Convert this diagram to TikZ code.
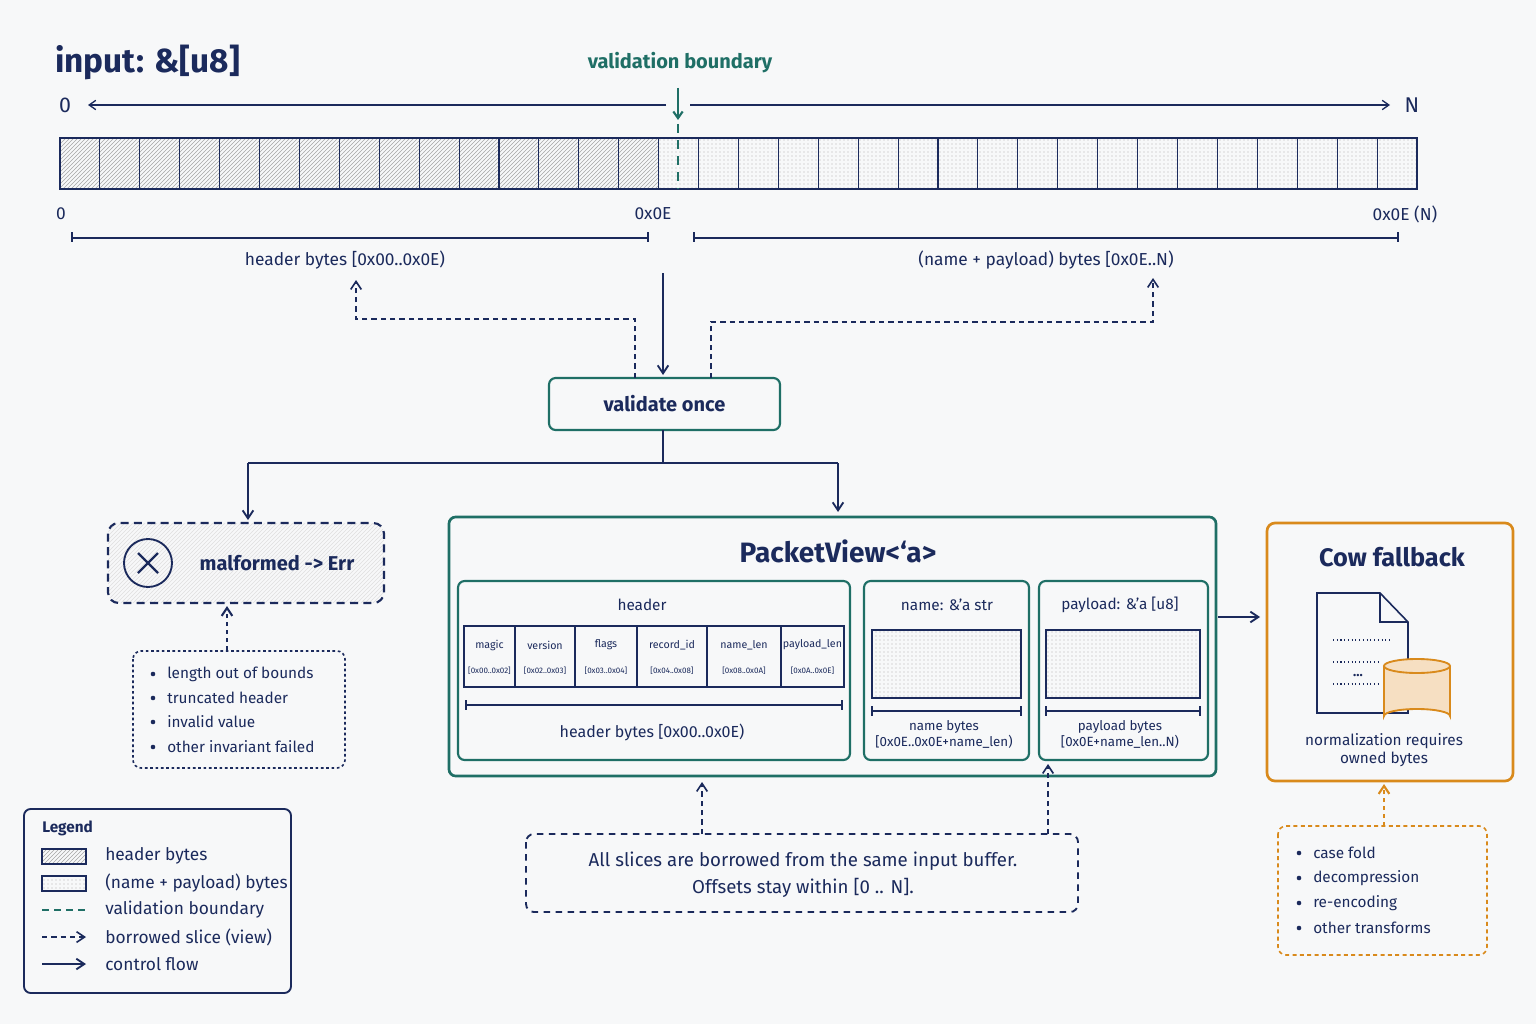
\documentclass[tikz,border=0pt]{standalone}
\usepackage{fontspec}
\setmainfont{Fira Sans}
\usetikzlibrary{arrows.meta,patterns,shapes.geometric}
\definecolor{navy}{HTML}{1B2A5C}
\definecolor{grn}{HTML}{1F6F66}
\definecolor{org}{HTML}{D98A1C}
\definecolor{bg}{HTML}{F7F8F9}
\definecolor{lorg}{HTML}{F6DFC2}
\tikzset{
 ar/.style={-{Straight Barb[length=6pt,width=8pt]},line width=1.4pt,navy},
 dar/.style={-{Straight Barb[length=6pt,width=8pt]},line width=1.2pt,navy,dash pattern=on 4pt off 3pt},
 t/.style={text=navy,font=\fontsize{13}{15}\selectfont,inner sep=0pt},
 st/.style={text=navy,font=\fontsize{10}{12}\selectfont,inner sep=0pt,align=center},
 tiny/.style={text=navy,font=\fontsize{6}{7}\selectfont,inner sep=0pt},
 hcol/.style={text=navy,font=\fontsize{8}{9}\selectfont,inner sep=0pt},
 gbox/.style={draw=grn,line width=1.6pt,rounded corners=5pt},
 hat/.style={pattern={north east lines},pattern color=gray!70},
 dot/.style={pattern=dots,pattern color=gray!60},
}
\begin{document}
\begin{tikzpicture}[x=0.75pt,y=-0.75pt]
\fill[bg] (0,0) rectangle (1536,1024);
\useasboundingbox (0,0) rectangle (1536,1024);
% title
\node[anchor=west,text=navy,font=\fontsize{25}{28}\selectfont\bfseries,inner sep=0pt] (title) at (55,62) {input: \&[u8]};
\node[text=grn,font=\fontsize{15}{18}\selectfont\bfseries,inner sep=0pt] (vb) at (680,63) {validation boundary};
\node[t,font=\fontsize{16}{18}\selectfont] (z0) at (65,105) {0};
\node[t,font=\fontsize{16}{18}\selectfont] (zN) at (1412,105) {N};
\draw[-{Straight Barb[length=5pt,width=7pt]},line width=1pt,navy] (666,105) -- (88,105);
\draw[-{Straight Barb[length=5pt,width=7pt]},line width=1pt,navy] (690,105) -- (1390,105);
\draw[-{Straight Barb[length=5pt,width=7pt]},line width=1.6pt,grn] (678,88) -- (678,120);
% strip
\foreach \i in {0,...,33}{
 \pgfmathsetmacro{\xa}{60+\i*39.91}
 \pgfmathsetmacro{\xb}{60+(\i+1)*39.91}
 \ifnum\i<15
  \draw[navy,line width=0.8pt,hat] (\xa,138) rectangle (\xb,189);
 \else
  \draw[navy,line width=0.8pt,dot] (\xa,138) rectangle (\xb,189);
 \fi
}
\draw[navy,line width=1.2pt] (60,138) rectangle (1417,189);
\draw[grn,line width=2pt,dash pattern=on 7pt off 5pt] (678,124) -- (678,189);
\node[t] (l0) at (61,214) {0};
\node[t] (l1) at (653,214) {0x0E};
\node[t] (l2) at (1405,214) {0x0E (N)};
\draw[navy,line width=1.6pt] (72,232) -- (72,242) (72,238) -- (648,238) (648,232) -- (648,242);
\draw[navy,line width=1.6pt] (694,232) -- (694,242) (694,238) -- (1398,238) (1398,232) -- (1398,242);
\node[t] (hb) at (345,260) {header bytes [0x00..0x0E)};
\node[t] (pb) at (1046,260) {(name + payload) bytes [0x0E..N)};
% validate
\node[gbox,minimum width=231pt*0.75,minimum height=52pt*0.75,text=navy,font=\fontsize{15}{18}\selectfont\bfseries] (val) at (664.5,404) {validate once};
\draw[ar] (663,273) -- (663,375);
\draw[dar] (635,378) -- (635,319) -- (356,319) -- (356,280);
\draw[dar] (711,378) -- (711,322) -- (1153,322) -- (1153,278);
\draw[ar,-] (663,430) -- (663,463);
\draw[ar] (248,463) -- (838,463) (248,463) -- (248,520);
\draw[ar] (838,463) -- (838,512);
% malformed
\draw[navy,line width=1.6pt,dash pattern=on 6pt off 4pt,rounded corners=8pt,pattern={north east lines},pattern color=gray!25] (108,523) rectangle (384,603);
\node[draw=navy,circle,line width=1.4pt,minimum size=48pt*0.75] (xc) at (148,563) {};
\draw[navy,line width=1.6pt] (xc.center)++(-10,-10) -- ++(20,20) (xc.center)++(10,-10) -- ++(-20,20);
\node[t,font=\fontsize{15}{18}\selectfont\bfseries] (mal) at (277,563) {malformed -> Err};
\draw[navy,line width=1.2pt,dash pattern=on 2pt off 2pt,rounded corners=6pt] (133,651) rectangle (345,768);
\draw[navy,line width=1.6pt,dash pattern=on 3pt off 3pt,-{Straight Barb[length=6pt,width=8pt]}] (227,650) -- (227,606);
\foreach \y/\s in {674/length out of bounds,698/truncated header,722/invalid value,747/other invariant failed}{
 \fill[navy] (153,\y) circle (2.3);
 \node[t,anchor=west,font=\fontsize{11.5}{14}\selectfont] at (167,\y) {\s};
}
% PacketView
\draw[gbox,line width=2pt] (449,517) rectangle (1216,776);
\node[t,font=\fontsize{21}{24}\selectfont\bfseries] (pv) at (838,551) {PacketView<‘a>};
\draw[gbox,line width=1.6pt] (458,581) rectangle (850,760);
\node[t,font=\fontsize{11.5}{14}\selectfont] at (642,605) {header};
\draw[navy,line width=1pt] (464,626) rectangle (844,687);
\foreach \xa/\xb/\n/\r in {464/515/magic/{[0x00..0x02]},515/575/version/{[0x02..0x03]},575/637/flags/{[0x03..0x04]},637/707/record\_id/{[0x04..0x08]},707/781/name\_len/{[0x08..0x0A]},781/844/payload\_len/{[0x0A..0x0E]}}{
 \draw[navy,line width=1pt] (\xb,626) -- (\xb,687);
 \node[hcol] at ({(\xa+\xb)/2},645) {\n};
 \node[tiny] at ({(\xa+\xb)/2},671) {\r};
}
\draw[navy,line width=1.6pt] (466,700) -- (466,710) (466,705) -- (842,705) (842,700) -- (842,710);
\node[t,font=\fontsize{12}{14}\selectfont] at (652,732) {header bytes [0x00..0x0E)};
\draw[gbox,line width=1.6pt] (864,581) rectangle (1029,760);
\node[t,font=\fontsize{11.5}{14}\selectfont] at (947,605) {name: \&’a str};
\draw[navy,line width=1pt,dot] (872,630) rectangle (1021,698);
\draw[navy,line width=1.6pt] (872,706) -- (872,716) (872,711) -- (1021,711) (1021,706) -- (1021,716);
\node[st] at (944,734) {name bytes\\{}[0x0E..0x0E+name\_len)};
\draw[gbox,line width=1.6pt] (1039,581) rectangle (1208,760);
\node[t,font=\fontsize{11.5}{14}\selectfont] at (1120,605) {payload: \&’a [u8]};
\draw[navy,line width=1pt,dot] (1046,630) rectangle (1200,698);
\draw[navy,line width=1.6pt] (1046,706) -- (1046,716) (1046,711) -- (1200,711) (1200,706) -- (1200,716);
\node[st] at (1120,734) {payload bytes\\{}[0x0E+name\_len..N)};
\draw[ar] (1218,617) -- (1260,617);
% Cow
\draw[draw=org,line width=2pt,rounded corners=6pt] (1267,523) rectangle (1513,781);
\node[t,font=\fontsize{19}{22}\selectfont\bfseries] (cow) at (1392,557) {Cow fallback};
\draw[navy,line width=1.2pt,fill=bg] (1317,593) -- (1380,593) -- (1408,622) -- (1408,713) -- (1317,713) -- cycle;
\draw[navy,line width=1.2pt] (1380,593) -- (1380,622) -- (1408,622);
\draw[navy,dotted,line width=0.8pt] (1333,640) -- (1392,640) (1333,662) -- (1380,662) (1333,684) -- (1380,684);
\node[t,font=\fontsize{10}{10}\selectfont\bfseries] at (1358,676) {...};
\draw[org,line width=1.4pt,fill=lorg] (1384,666) -- (1384,716) arc[start angle=180,end angle=360,x radius=33,y radius=7] -- (1450,666);
\draw[org,line width=1.4pt,fill=lorg] (1417,666) ellipse[x radius=33,y radius=7];
\node[st,font=\fontsize{11.5}{13}\selectfont] at (1384,750) {normalization requires\\owned bytes};
\draw[org,line width=1.6pt,dash pattern=on 3pt off 3pt,-{Straight Barb[length=6pt,width=8pt]}] (1384,826) -- (1384,784);
\draw[org,line width=1.2pt,dash pattern=on 3pt off 2.5pt,rounded corners=6pt] (1278,826) rectangle (1487,955);
\foreach \y/\s in {853/case fold,878/decompression,903/re-encoding,928/other transforms}{
 \fill[navy] (1299,\y) circle (2.3);
 \node[t,anchor=west,font=\fontsize{11.5}{14}\selectfont] at (1313,\y) {\s};
}
% note
\draw[navy,line width=1.4pt,dash pattern=on 5pt off 4pt,rounded corners=6pt] (526,834) rectangle (1078,912);
\node[t,align=center,font=\fontsize{14}{20}\selectfont] at (803,875) {All slices are borrowed from the same input buffer.\\Offsets stay within [0 .. N].};
\draw[dar] (702,834) -- (702,782);
\draw[dar] (1048,834) -- (1048,764);
% legend
\draw[navy,line width=1.4pt,rounded corners=5pt,fill=bg] (24,809) rectangle (291,993);
\node[t,anchor=west,font=\fontsize{11.5}{14}\selectfont\bfseries] at (42,828) {Legend};
\draw[navy,line width=0.8pt,hat] (42,849) rectangle (86,864);
\draw[navy,line width=0.8pt,dot] (42,876) rectangle (86,891);
\draw[grn,line width=1.4pt,dash pattern=on 5pt off 4pt] (42,910) -- (86,910);
\draw[dar] (42,937) -- (86,937);
\draw[ar] (42,964) -- (86,964);
\foreach \y/\s in {856/header bytes,883/(name + payload) bytes,910/validation boundary,937/borrowed slice (view),964/control flow / result}{
 \node[t,anchor=west] at (105,\y) {\s};
}
\end{tikzpicture}
\end{document}
